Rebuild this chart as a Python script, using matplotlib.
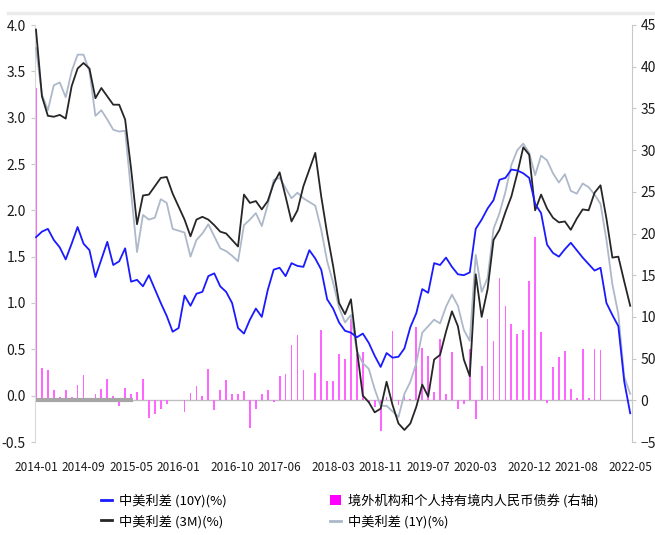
import numpy as np
import matplotlib
matplotlib.use("Agg")
import matplotlib.pyplot as plt
from matplotlib.lines import Line2D
from matplotlib.patches import Patch

plt.rcParams['font.family'] = ['Noto Sans CJK SC', 'DejaVu Sans']

# ---- data (monthly, 2014-01 .. 2022-05) ----
spread_10y = [1.71, 1.77, 1.80, 1.68, 1.60, 1.47, 1.64, 1.82, 1.64, 1.57,
              1.28, 1.47, 1.66, 1.41, 1.45, 1.59, 1.23, 1.25, 1.18, 1.30,
              1.15, 1.00, 0.86, 0.69, 0.73, 1.08, 0.97, 1.10, 1.12, 1.29,
              1.32, 1.18, 1.12, 1.00, 0.73, 0.67, 0.82, 0.94, 0.85, 1.14,
              1.36, 1.38, 1.29, 1.43, 1.40, 1.39, 1.57, 1.48, 1.36, 1.04,
              0.94, 0.79, 0.70, 0.68, 0.63, 0.67, 0.57, 0.43, 0.31, 0.46,
              0.41, 0.42, 0.51, 0.74, 0.89, 1.15, 1.11, 1.43, 1.41, 1.49,
              1.39, 1.31, 1.30, 1.33, 1.80, 1.90, 2.02, 2.11, 2.33, 2.35,
              2.44, 2.43, 2.40, 2.35, 2.07, 1.97, 1.63, 1.54, 1.50, 1.58,
              1.65, 1.57, 1.49, 1.42, 1.35, 1.38, 1.00, 0.87, 0.75, 0.15,
              -0.19]
spread_3m = [3.95, 3.23, 3.02, 3.01, 3.03, 2.99, 3.34, 3.53, 3.59, 3.53,
             3.21, 3.32, 3.23, 3.14, 3.14, 2.98, 2.45, 1.85, 2.16, 2.17,
             2.26, 2.35, 2.36, 2.18, 2.04, 1.90, 1.72, 1.90, 1.93, 1.90,
             1.84, 1.77, 1.75, 1.68, 1.61, 2.17, 2.08, 2.10, 2.01, 2.10,
             2.29, 2.41, 2.15, 1.88, 2.00, 2.26, 2.44, 2.62, 2.15, 1.75,
             1.40, 1.00, 0.88, 1.04, 0.50, 0.00, -0.07, -0.18, -0.14, 0.15,
             -0.10, -0.30, -0.37, -0.30, -0.12, 0.12, -0.01, 0.39, 0.44, 0.69,
             0.91, 0.75, 0.39, 0.21, 1.31, 0.85, 1.15, 1.68, 1.79, 1.98,
             2.15, 2.40, 2.68, 2.60, 2.00, 2.17, 2.02, 1.92, 1.87, 1.88,
             1.79, 1.91, 2.01, 2.00, 2.19, 2.27, 1.91, 1.49, 1.50, 1.23,
             0.97]
spread_1y = [3.75, 3.25, 3.08, 3.35, 3.38, 3.22, 3.50, 3.68, 3.68, 3.50,
             3.02, 3.08, 2.98, 2.87, 2.85, 2.86, 2.20, 1.55, 1.95, 1.90,
             1.92, 2.12, 2.08, 1.80, 1.78, 1.76, 1.50, 1.68, 1.75, 1.85,
             1.72, 1.59, 1.56, 1.51, 1.45, 1.84, 1.90, 1.97, 1.83, 2.06,
             2.33, 2.35, 2.24, 2.13, 2.19, 2.13, 2.09, 2.05, 1.79, 1.45,
             1.22, 0.95, 0.79, 0.87, 0.48, 0.35, 0.29, 0.07, -0.11, -0.11,
             -0.17, -0.23, 0.02, 0.15, 0.35, 0.68, 0.75, 0.82, 0.78, 0.96,
             1.09, 0.97, 0.71, 0.59, 1.52, 1.12, 1.27, 1.80, 1.97, 2.20,
             2.49, 2.65, 2.72, 2.62, 2.38, 2.59, 2.54, 2.40, 2.30, 2.39,
             2.21, 2.18, 2.29, 2.25, 2.17, 2.07, 1.68, 1.20, 0.88, 0.20,
             0.02]
bond_holdings = [375, 39, 36, 12, 4, 12, 4, 18, 30, 1,
                 7, 14, 26, 5, -7, 15, 7, 10, 25, -21,
                 -17, -11, -4, 0, 0, -14, 9, 17, 5, 38,
                 -12, 12, 24, 8, 7, 11, -33, -11, 8, 12,
                 -2, 29, 32, 66, 78, 36, 0, 33, 84, 23,
                 23, 56, 49, 97, 56, 58, -3, -8, -37, 4,
                 83, -6, 5, 2, 88, 63, 53, 10, 73, 8,
                 58, -10, -5, 62, -23, 41, 97, 71, 147, 113,
                 91, 79, 84, 143, 196, 82, -3, 40, 52, 59,
                 13, 3, 62, 3, 62, 60, None, None, None, None,
                 None]
tick_labels = ['2014-01', '2014-09', '2015-05', '2016-01', '2016-10', '2017-06',
               '2018-03', '2018-11', '2019-07', '2020-03', '2020-12', '2021-08',
               '2022-05']
tick_months = [0, 8, 16, 24, 33, 41, 50, 58, 66, 74, 83, 91, 100]

months = np.arange(len(spread_10y))
bars = np.array([np.nan if v is None else v for v in bond_holdings], dtype=float)

fig = plt.figure(figsize=(6.55, 5.35), dpi=100)
ax = fig.add_axes([35.4 / 655, 1 - 442 / 535, (632 - 35.4) / 655, (442 - 25) / 535])
ax2 = ax.twinx()
ax.set_zorder(ax2.get_zorder() + 1)
ax.patch.set_visible(False)

# bars on right axis
ax2.bar(months, bars, width=0.3, color='#FF66FF', linewidth=0, zorder=2,
        antialiased=False)
ax2.axhline(0, color='#BFBFBF', lw=1.0, zorder=1)
ax2.plot([months[0], months[16] + 0.4], [0, 0], color='#A6A6A6', lw=3, zorder=3,
         solid_capstyle='butt')

# lines on left axis
ax.plot(months, spread_1y, color='#ADB9CA', lw=1.3, zorder=3)
ax.plot(months, spread_3m, color='#262626', lw=1.3, zorder=4)
ax.plot(months, spread_10y, color='#1A1AFF', lw=1.3, zorder=5)

ax.set_xlim(-0.1, 100.3)
ax.set_ylim(-0.5, 4.0)
ax2.set_ylim(-50, 450)

ax.set_yticks(np.arange(-0.5, 4.01, 0.5))
ax.set_yticklabels([f'{v:.1f}' for v in np.arange(-0.5, 4.01, 0.5)])
ax2.set_yticks(np.arange(-50, 451, 50))
ax.set_xticks(tick_months)
ax.set_xticklabels(tick_labels)

for a in (ax, ax2):
    a.spines['top'].set_visible(False)
    a.spines['bottom'].set_visible(False)
ax.spines['right'].set_visible(False)
ax2.spines['left'].set_visible(False)
ax.spines['left'].set_color('#D9D9D9')
ax2.spines['right'].set_color('#C8C8C8')

ax.tick_params(axis='x', length=0, pad=14, labelsize=8.5, labelcolor='#1A1A1A')
ax.tick_params(axis='y', length=3, width=0.8, color='#C8C8C8', pad=4,
               labelsize=10, labelcolor='#1A1A1A')
ax2.tick_params(axis='y', length=3, width=0.8, color='#C8C8C8', pad=3,
                labelsize=10, labelcolor='#1A1A1A')

# top border line
fig.add_artist(Line2D([8 / 655, 1.0], [1 - 12.5 / 535] * 2, color='#EBEBEB', lw=2.5,
                      transform=fig.transFigure))

# legends
h10 = Line2D([], [], color='#1A1AFF', lw=2)
h3m = Line2D([], [], color='#262626', lw=2)
h1y = Line2D([], [], color='#ADB9CA', lw=2)
hbar = Patch(facecolor='#FF00FF', edgecolor='none')

common = dict(frameon=False, fontsize=9.5, handlelength=0.8, handleheight=0.8,
              handletextpad=0.6, labelspacing=0.55, borderaxespad=0, borderpad=0,
              loc='upper left')
leg1 = fig.legend([h10, h3m], ['中美利差 (10Y)(%)', '中美利差 (3M)(%)'],
                  bbox_to_anchor=(101 / 655, 1 - 494 / 535), **common)
leg2 = fig.legend([hbar, h1y], ['境外机构和个人持有境内人民币债券 (右轴)', '中美利差 (1Y)(%)'],
                  bbox_to_anchor=(330 / 655, 1 - 494 / 535), **common)

fig.savefig('out.png', dpi=100)
